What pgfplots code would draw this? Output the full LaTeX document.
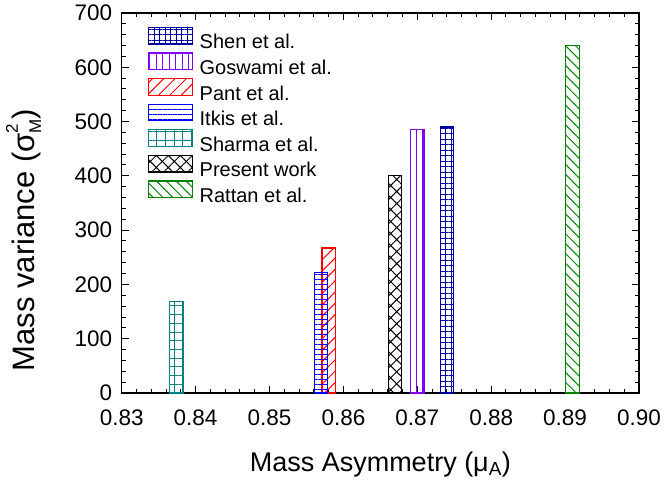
\documentclass[border=0pt]{standalone}
\usepackage{pgfplots}
\pgfplotsset{compat=1.18}
\usepackage{fontspec}
\setmainfont{Liberation Sans}
\usetikzlibrary{patterns.meta}
\definecolor{cShen}{RGB}{0,0,160}
\definecolor{cGos}{RGB}{128,0,255}
\definecolor{cPant}{RGB}{255,0,0}
\definecolor{cItkis}{RGB}{0,0,255}
\definecolor{cSharma}{RGB}{0,128,128}
\definecolor{cPres}{RGB}{0,0,0}
\definecolor{cRattan}{RGB}{0,128,0}
\begin{document}
\begin{tikzpicture}
\useasboundingbox (-121.7bp,-87bp) rectangle (542.3bp,393bp);
\begin{axis}[
  at={(0,0)}, anchor=south west,
  scale only axis, width=517.3bp, height=380bp,
  xmin=0.83, xmax=0.90, ymin=0, ymax=700,
  xtick={0.83,0.84,0.85,0.86,0.87,0.88,0.89,0.90},
  ytick={0,100,200,300,400,500,600,700},
  minor x tick num=4, minor y tick num=4,
  tick align=inside,
  major tick length=7bp, minor tick length=4bp,
  axis line style={line width=1.2bp},
  every tick/.style={black,line width=1bp},
  scaled x ticks=false,
  x tick label style={yshift=-13bp,/pgf/number format/.cd,fixed,fixed zerofill,precision=2,/tikz/.cd},
  y tick label style={xshift=-6bp},
  /pgf/number format/assume math mode=true,
  tick label style={font=\fontsize{22.5bp}{27bp}\selectfont},
  xlabel style={font=\fontsize{27bp}{31bp}\selectfont, at={(axis description cs:0.5,0)}, anchor=base, yshift=-78bp},
  ylabel style={font=\fontsize{31bp}{35bp}\selectfont, at={(axis description cs:0,0.5)}, anchor=base, xshift=-37bp, yshift=86.7bp},
  xlabel={Mass Asymmetry (μ\textsubscript{A})},
  ylabel={Mass variance (σ\rlap{\raisebox{0.55em}{\fontsize{17bp}{17bp}\selectfont 2}}\raisebox{-0.2em}{\fontsize{17bp}{17bp}\selectfont M})},
  legend style={at={(0.0508,0.964)}, anchor=north west, draw=none, fill=none,
    font=\fontsize{20bp}{24bp}\selectfont, row sep=2bp, column sep=0pt, inner sep=0pt,
    nodes={inner sep=0pt}},
  legend cell align=left,
  every axis plot/.append style={ybar, bar width=0.0018, bar shift=0pt, line width=1.2bp,
    legend image code/.code={\draw[##1] (0bp,-1.6bp) rectangle (44bp,15bp); \path (50.3bp,0bp);}},
]
\addplot[draw=cShen, pattern={Hatch[angle=0,distance=5.5bp,line width=0.9bp]}, pattern color=cShen] coordinates {(0.8740,490)};
\addlegendentry{Shen et al.}
\addplot[draw=cGos, pattern={Lines[angle=90,distance=6.5bp,line width=1bp]}, pattern color=cGos] coordinates {(0.8700,486)};
\addlegendentry{Goswami et al.}
\addplot[draw=cPant, pattern={Lines[angle=45,distance=8bp,line width=1bp]}, pattern color=cPant] coordinates {(0.8580,267)};
\addlegendentry{Pant et al.}
\addplot[draw=cItkis, pattern={Lines[angle=0,distance=5bp,line width=1bp]}, pattern color=cItkis] coordinates {(0.8570,222)};
\addlegendentry{Itkis et al.}
\addplot[draw=cSharma, pattern={Hatch[angle=0,distance=8.7bp,line width=1bp]}, pattern color=cSharma] coordinates {(0.8374,168)};
\addlegendentry{Sharma et al.}
\addplot[draw=cPres, pattern={Hatch[angle=45,distance=8.5bp,line width=1bp]}, pattern color=cPres] coordinates {(0.8670,400)};
\addlegendentry{Present work}
\addplot[draw=cRattan, pattern={Lines[angle=-45,distance=7bp,line width=1bp]}, pattern color=cRattan] coordinates {(0.8910,640)};
\addlegendentry{Rattan et al.}
\end{axis}
\end{tikzpicture}
\end{document}
